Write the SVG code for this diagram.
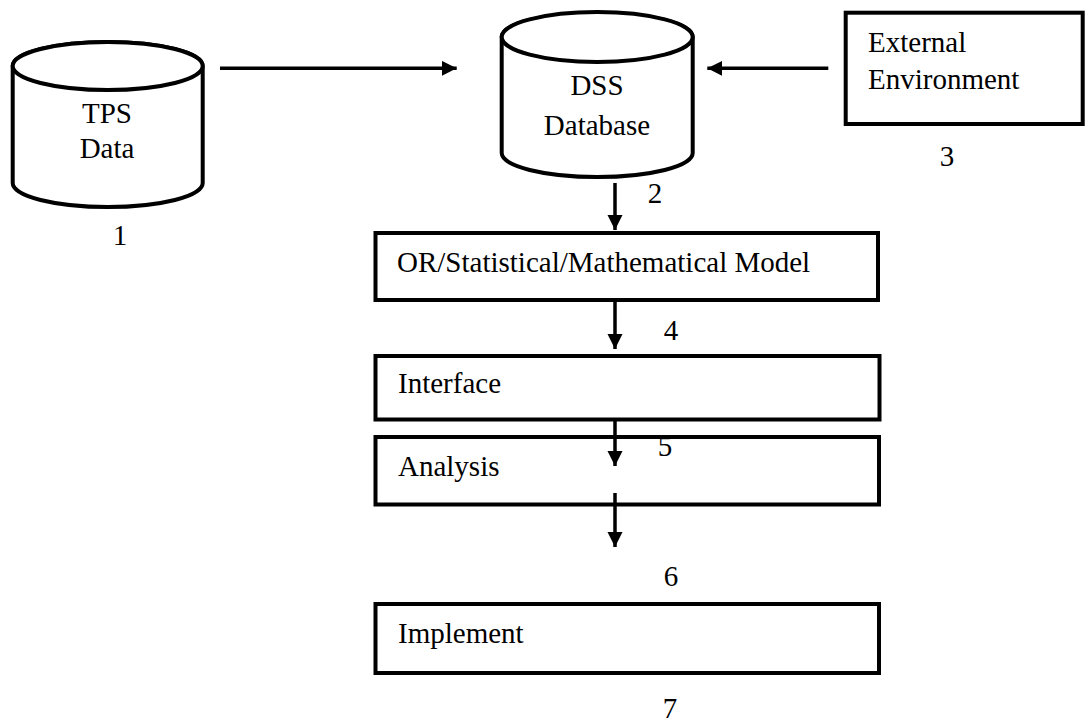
<svg xmlns="http://www.w3.org/2000/svg" width="1088" height="720" viewBox="0 0 1088 720">
  <style>
    .shape { fill: #ffffff; stroke: #000000; stroke-width: 4; }
    .edge { fill: none; stroke: #000000; stroke-width: 3.5; }
    .lbl { font-family: "Liberation Serif", "Times New Roman", serif; font-size: 29px; fill: #000000; }
    .mid { text-anchor: middle; }
  </style>
  <defs>
    <marker id="head" markerUnits="userSpaceOnUse" markerWidth="16" markerHeight="16" refX="15" refY="7.5" orient="auto">
      <path d="M0,0 L15,7.5 L0,15 Z" fill="#000000"/>
    </marker>
    <clipPath id="inAnalysis">
      <rect x="600" y="439" width="120" height="60"/>
    </clipPath>
  </defs>
  <rect width="1088" height="720" fill="#ffffff"/>

  <!-- TPS data store -->
  <g id="tps">
    <path class="shape" d="M12.7,66 L12.7,183 A95,24 0 0 0 202.7,183 L202.7,66 A95,24 0 0 0 12.7,66 Z"/>
    <ellipse class="shape" cx="107.7" cy="66" rx="95" ry="24"/>
    <text class="lbl mid" x="107" y="123">TPS</text>
    <text class="lbl mid" x="107" y="158">Data</text>
    <text class="lbl mid" x="120" y="245">1</text>
  </g>

  <!-- DSS database -->
  <g id="dss">
    <path class="shape" d="M501.7,37 L501.7,153 A95.5,24 0 0 0 692.7,153 L692.7,37 A95.5,24 0 0 0 501.7,37 Z"/>
    <ellipse class="shape" cx="597.2" cy="37" rx="95.5" ry="25"/>
    <text class="lbl mid" x="597" y="95">DSS</text>
    <text class="lbl mid" x="597" y="135">Database</text>
    <text class="lbl mid" x="655" y="203">2</text>
  </g>

  <!-- External environment -->
  <g id="external">
    <rect class="shape" x="845.7" y="12.7" width="237" height="111.3"/>
    <text class="lbl" x="868" y="52">External</text>
    <text class="lbl" x="868" y="89">Environment</text>
    <text class="lbl mid" x="947" y="166">3</text>
  </g>

  <!-- Model -->
  <g id="model">
    <rect class="shape" x="375.5" y="233" width="502.5" height="67"/>
    <text class="lbl" x="397" y="272">OR/Statistical/Mathematical Model</text>
    <text class="lbl mid" x="671" y="340">4</text>
  </g>

  <!-- Interface -->
  <g id="interface">
    <rect class="shape" x="375.5" y="356" width="504" height="63.5"/>
    <text class="lbl" x="398" y="393">Interface</text>
  </g>

  <!-- Analysis -->
  <g id="analysis">
    <rect class="shape" x="375.5" y="437" width="503.5" height="67.5"/>
    <text class="lbl" x="398" y="476">Analysis</text>
    <text class="lbl mid" x="665" y="456" clip-path="url(#inAnalysis)">5</text>
    <text class="lbl mid" x="671" y="586">6</text>
  </g>

  <!-- Implement -->
  <g id="implement">
    <rect class="shape" x="375.5" y="604" width="503.5" height="69"/>
    <text class="lbl" x="398" y="643">Implement</text>
    <text class="lbl mid" x="670" y="718">7</text>
  </g>

  <!-- Connectors -->
  <g id="connectors">
    <line class="edge" x1="220" y1="68.3" x2="456.7" y2="68.3" marker-end="url(#head)"/>
    <line class="edge" x1="828.3" y1="68.3" x2="707.3" y2="68.3" marker-end="url(#head)"/>
    <line class="edge" x1="615" y1="183" x2="615" y2="230" marker-end="url(#head)"/>
    <line class="edge" x1="615" y1="300" x2="615" y2="349" marker-end="url(#head)"/>
    <line class="edge" x1="615" y1="419" x2="615" y2="466" marker-end="url(#head)"/>
    <line class="edge" x1="615" y1="493" x2="615" y2="547" marker-end="url(#head)"/>
  </g>
</svg>
